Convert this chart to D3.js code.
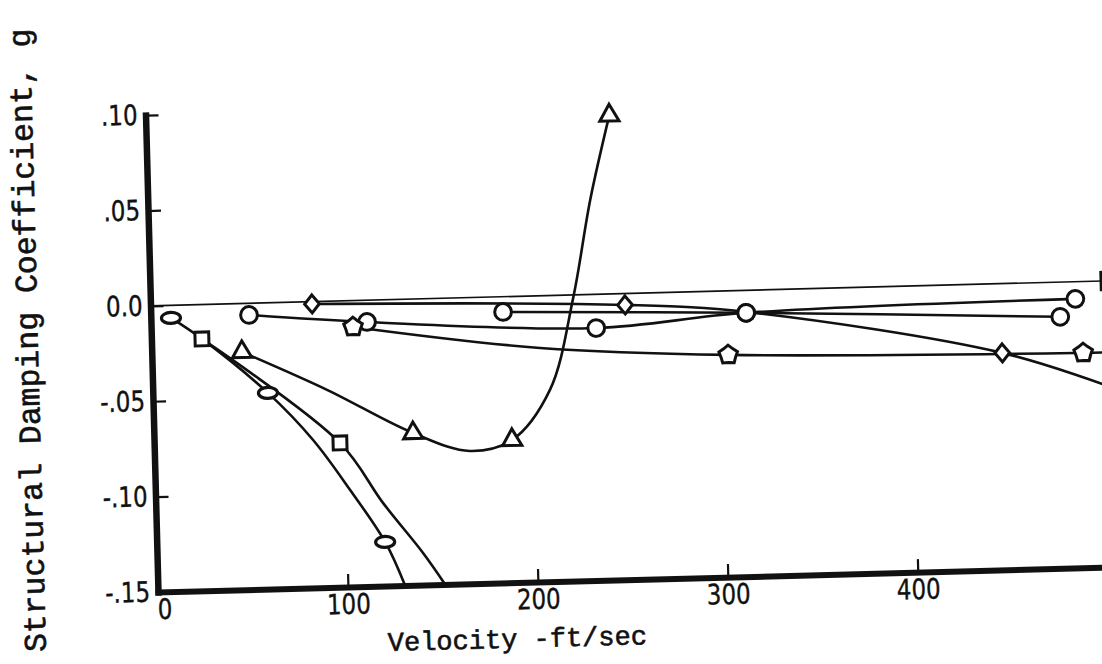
<!DOCTYPE html>
<html><head><meta charset="utf-8">
<script src="https://cdn.jsdelivr.net/npm/d3@7"></script>
<style>body{margin:0;background:#fff}svg{display:block}</style>
</head><body>
<svg id="c" width="1102" height="664"></svg>
<script>
// ---- data (velocity ft/sec, structural damping g) ----
const xTicks = [0, 100, 200, 300, 400];
const xTickLabels = ["0", "100", "200", "300", "400"];
const yTicks = [0.10, 0.05, 0.0, -0.05, -0.10, -0.15];
const yTickLabels = [".10", ".05", "0.0", "-.05", "-.10", "-.15"];
const xTitle = "Velocity -ft/sec";
const yTitle = "Structural Damping Coefficient, g";

const zeroLine = [[0, 0], [520, 0]];
const edgeMarker = [[505, 0]];

const ovalPts = [[10.6, -0.0066], [60.6, -0.0472], [120.2, -0.1269]];
const ovalCurve = [[10.6, -0.0066], [26.6, -0.018], [60.6, -0.0472], [83.7, -0.0725], [102.5, -0.0992], [120.2, -0.1269], [130.1, -0.15]];

const squarePts = [[26.6, -0.018], [97.8, -0.0744]];
const squareCurve = [[26.6, -0.018], [97.8, -0.0744], [119.6, -0.1064], [140, -0.1332], [151.2, -0.15]];

const trianglePts = [[47.5, -0.0254], [136.4, -0.0702], [188.4, -0.0752], [244, 0.0935]];
const triangleCurve = [[47.5, -0.0254], [91.7, -0.0464], [136.4, -0.0702], [166, -0.0804], [188.4, -0.0752], [209, -0.0495], [222.5, -0.0016], [232.8, 0.0495], [244, 0.0935]];

const circleAPts = [[51.7, -0.0061], [113.7, -0.0114], [234.2, -0.0177], [313.3, -0.0118], [486.7, -0.009]];
const circleBPts = [[185.4, -0.008], [313.3, -0.0118], [478.5, -0.0182]];

const diamondPts = [[85, -0.0012], [249.7, -0.006], [447.5, -0.0363]];
const diamondCurve = [[85, -0.0012], [249.7, -0.006], [313, -0.0113], [447.5, -0.0363], [505, -0.056]];

const starPts = [[106.3, -0.0138], [303.3, -0.0336], [490.1, -0.0374]];
const starCurve = [[106.3, -0.0138], [204.4, -0.0274], [303.3, -0.0336], [490.1, -0.0374], [510, -0.0375]];

// ---- layout ----
const svg = d3.select("#c");
const ox = 158, oy = 592;
const x = d3.scaleLinear().domain([0, 500]).range([ox, ox + 950]);
const y = d3.scaleLinear().domain([-0.15, 0.10]).range([oy, oy - 477]);

const g = svg.append("g").attr("transform", `rotate(-1.5, ${ox}, ${oy})`);
const ink = "#111";
const sx = 0.82;

// axes
const xAxis = d3.axisBottom(x).tickValues(xTicks).tickFormat((d, i) => xTickLabels[i])
  .tickSizeInner(-13).tickSizeOuter(0).tickPadding(7);
const gx = g.append("g").attr("transform", `translate(0,${oy})`).call(xAxis);
gx.select(".domain").attr("stroke", ink).attr("stroke-width", 6).attr("stroke-linecap", "square");
gx.selectAll(".tick line").attr("stroke", ink).attr("stroke-width", 2.2);
gx.selectAll(".tick text").attr("fill", ink).attr("stroke", ink).attr("stroke-width", 0.4)
  .style("font-family", "DejaVu Sans").style("font-size", "28px")
  .attr("transform", `scale(${sx},1)`);
gx.selectAll(".tick").filter(d => d === 0).select("line").remove();
gx.selectAll(".tick").filter(d => d === 0).select("text").attr("x", 6 / sx);

const yAxis = d3.axisLeft(y).tickValues(yTicks).tickFormat((d, i) => yTickLabels[i])
  .tickSizeInner(-13).tickSizeOuter(0).tickPadding(8);
const gy = g.append("g").attr("transform", `translate(${ox},0)`).call(yAxis);
gy.select(".domain").attr("stroke", ink).attr("stroke-width", 6.5).attr("stroke-linecap", "square");
gy.selectAll(".tick line").attr("stroke", ink).attr("stroke-width", 2.2);
gy.selectAll(".tick text").attr("fill", ink).attr("stroke", ink).attr("stroke-width", 0.4)
  .style("font-family", "DejaVu Sans").style("font-size", "28px")
  .attr("x", -8 / sx).attr("transform", `scale(${sx},1)`);
gy.selectAll(".tick").filter(d => d === -0.15).select("line").remove();

// titles
g.append("text").attr("x", 516).attr("y", 650).attr("text-anchor", "middle").attr("dominant-baseline", "central")
  .attr("fill", ink).attr("stroke", ink).attr("stroke-width", 0.6)
  .style("font-family", "Liberation Mono").style("font-size", "27px").text(xTitle);
g.append("text").attr("transform", "translate(36,337) rotate(-90)").attr("text-anchor", "middle").attr("dominant-baseline", "central")
  .attr("fill", ink).attr("stroke", ink).attr("stroke-width", 0.6)
  .style("font-family", "Liberation Mono").style("font-size", "31.5px").text(yTitle);

// curves
const line = d3.line().x(d => x(d[0])).y(d => y(d[1])).curve(d3.curveCatmullRom.alpha(0.5));
const straight = d3.line().x(d => x(d[0])).y(d => y(d[1]));
g.append("path").attr("d", straight(zeroLine)).attr("fill", "none").attr("stroke", ink).attr("stroke-width", 1.7);
[ovalCurve, squareCurve, triangleCurve, diamondCurve, starCurve, circleAPts, circleBPts].forEach(c =>
  g.append("path").attr("d", line(c)).attr("fill", "none").attr("stroke", ink).attr("stroke-width", 2.6));

// markers
const pentStar = {
  draw(ctx, size) {
    const R = Math.sqrt(size / 2.2), r = R * 0.78;
    for (let i = 0; i < 10; i++) {
      const a = -Math.PI / 2 + i * Math.PI / 5, rr = i % 2 ? r : R;
      const px = rr * Math.cos(a), py = rr * Math.sin(a);
      i ? ctx.lineTo(px, py) : ctx.moveTo(px, py);
    }
    ctx.closePath();
  }
};
const fatDiamond = {
  draw(ctx, size) {
    const h = Math.sqrt(size) * 0.62, w = h * 0.82;
    ctx.moveTo(0, -h); ctx.lineTo(w, 0); ctx.lineTo(0, h); ctx.lineTo(-w, 0); ctx.closePath();
  }
};
function markers(pts, type, size) {
  g.selectAll(null).data(pts).enter().append("path")
    .attr("transform", d => `translate(${x(d[0])},${y(d[1])})`)
    .attr("d", d3.symbol().type(type).size(size))
    .attr("fill", "#fff").attr("stroke", ink).attr("stroke-width", 3);
}
markers(circleAPts, d3.symbolCircle, 220);
markers(circleBPts, d3.symbolCircle, 220);
markers(squarePts, d3.symbolSquare, 190);
markers(edgeMarker, d3.symbolSquare, 300);
markers(trianglePts, d3.symbolTriangle, 160);
markers(diamondPts, fatDiamond, 210);
markers(starPts, pentStar, 210);
g.selectAll(null).data(ovalPts).enter().append("ellipse")
  .attr("cx", d => x(d[0])).attr("cy", d => y(d[1])).attr("rx", 9.5).attr("ry", 5.5)
  .attr("fill", "#fff").attr("stroke", ink).attr("stroke-width", 3.2);
</script>
</body></html>
